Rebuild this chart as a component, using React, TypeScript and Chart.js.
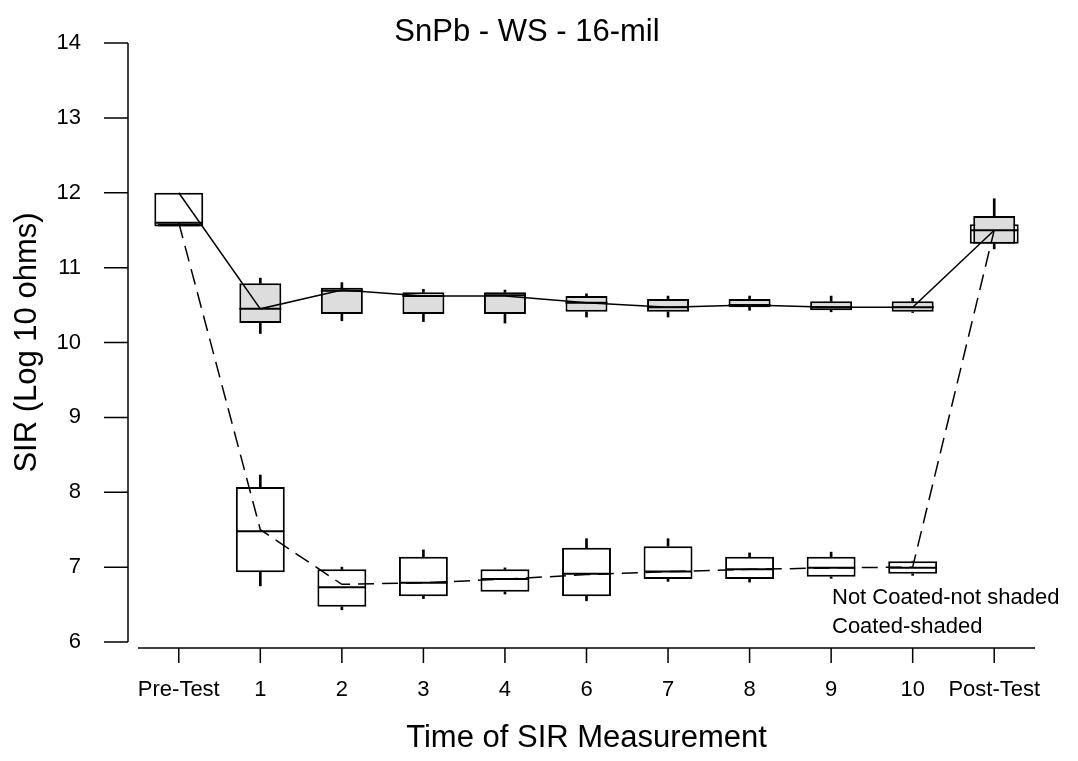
import React, { useEffect, useRef } from "react";
import { Chart, registerables } from "chart.js";

Chart.register(...registerables);

const categories = ["Pre-Test", "1", "2", "3", "4", "6", "7", "8", "9", "10", "Post-Test"];

// Not coated (white boxes, dashed line)
const ncMin = [null, 6.75, 6.43, 6.58, 6.64, 6.55, 6.81, 6.8, 6.85, 6.89, null];
const ncQ1 = [11.55, 6.93, 6.47, 6.61, 6.67, 6.61, 6.84, 6.84, 6.87, 6.91, 11.32];
const ncMedian = [11.6, 7.48, 6.73, 6.79, 6.84, 6.91, 6.94, 6.97, 6.99, 6.99, 11.5];
const ncQ3 = [12.0, 8.07, 6.97, 7.14, 6.97, 7.26, 7.28, 7.14, 7.14, 7.08, 11.58];
const ncMax = [null, 8.23, 7.0, 7.23, 6.99, 7.38, 7.38, 7.19, 7.2, 7.08, null];
const ncMean = [11.6, 7.5, 6.77, 6.79, 6.84, 6.9, 6.94, 6.97, 6.99, 7.0, 11.5];

// Coated (shaded boxes, solid line)
const cMin = [null, 10.12, 10.29, 10.28, 10.26, 10.34, 10.34, 10.43, 10.41, 10.4, 11.25];
const cQ1 = [11.55, 10.26, 10.38, 10.38, 10.38, 10.41, 10.41, 10.47, 10.43, 10.41, 11.32];
const cMedian = [11.57, 10.45, 10.69, 10.62, 10.63, 10.53, 10.47, 10.5, 10.47, 10.47, 11.5];
const cQ3 = [11.59, 10.79, 10.73, 10.67, 10.67, 10.62, 10.58, 10.58, 10.55, 10.55, 11.69];
const cMax = [null, 10.86, 10.8, 10.71, 10.7, 10.65, 10.62, 10.62, 10.62, 10.59, 11.92];
const cMean = [12.0, 10.45, 10.7, 10.62, 10.62, 10.53, 10.47, 10.5, 10.47, 10.47, 11.5];

const yTicks = [6, 7, 8, 9, 10, 11, 12, 13, 14];
const legendLines = ["Not Coated-not shaded", "Coated-shaded"];
const chartTitle = "SnPb - WS - 16-mil";

const FONT = "'Liberation Sans', Arial, sans-serif";

const range = (lo: (number | null)[], hi: (number | null)[]) =>
  lo.map((v, i) => (v == null || hi[i] == null ? null : [v as number, hi[i] as number]));

const decorPlugin = {
  id: "decor",
  afterDraw(chart: any) {
    const { ctx, chartArea } = chart;
    const xs = chart.scales.x;
    const ys = chart.scales.y;
    ctx.save();
    ctx.strokeStyle = "#000";
    ctx.lineWidth = 1.5;
    // y axis line + ticks
    const yax = chartArea.left - 10;
    ctx.beginPath();
    ctx.moveTo(yax, ys.getPixelForValue(yTicks[0]));
    ctx.lineTo(yax, ys.getPixelForValue(yTicks[yTicks.length - 1]));
    yTicks.forEach((t) => {
      const p = ys.getPixelForValue(t);
      ctx.moveTo(yax - 24, p);
      ctx.lineTo(yax, p);
    });
    ctx.stroke();
    // x axis line + ticks
    const xay = chartArea.bottom + 6;
    ctx.beginPath();
    ctx.moveTo(chartArea.left, xay);
    ctx.lineTo(chartArea.right, xay);
    categories.forEach((_, i) => {
      const p = xs.getPixelForValue(i);
      ctx.moveTo(p, xay);
      ctx.lineTo(p, xay + 15);
    });
    ctx.stroke();
    // title
    ctx.fillStyle = "#000";
    ctx.textAlign = "center";
    ctx.textBaseline = "middle";
    ctx.font = `31px ${FONT}`;
    ctx.fillText(chartTitle, 527, 32);
    // legend text
    ctx.textAlign = "left";
    ctx.font = `22px ${FONT}`;
    legendLines.forEach((t, i) => ctx.fillText(t, 832, 598 + i * 29));
    ctx.restore();
  },
};

export default function App() {
  const ref = useRef<HTMLCanvasElement | null>(null);
  useEffect(() => {
    document.body.style.margin = "0";
    if (!ref.current) return;
    Chart.defaults.color = "#000";
    const whisker = (lo: any[], hi: any[], order: number) => ({
      type: "bar" as const,
      data: range(lo, hi),
      backgroundColor: "#000",
      borderWidth: 0,
      barThickness: 2,
      grouped: false,
      order,
    });
    const chart = new Chart(ref.current, {
      type: "bar",
      data: {
        labels: categories,
        datasets: [
          whisker(ncMin, ncQ1, 20),
          whisker(ncQ3, ncMax, 19),
          {
            type: "bar",
            data: range(ncQ1, ncQ3),
            backgroundColor: "#fff",
            borderColor: "#000",
            borderWidth: 2,
            borderSkipped: false,
            barPercentage: 0.6,
            categoryPercentage: 1,
            grouped: false,
            order: 18,
          },
          {
            type: "line",
            data: ncMedian,
            showLine: false,
            pointStyle: "line",
            pointRadius: 24,
            pointBorderWidth: 2,
            pointBorderColor: "#000",
            order: 17,
          },
          whisker(cMin, cQ1, 16),
          whisker(cQ3, cMax, 15),
          {
            type: "bar",
            data: range(cQ1, cQ3),
            backgroundColor: "#dddddd",
            borderColor: "#000",
            borderWidth: 2,
            borderSkipped: false,
            barPercentage: 0.515,
            categoryPercentage: 1,
            grouped: false,
            order: 14,
          },
          {
            type: "line",
            data: cMedian,
            showLine: false,
            pointStyle: "line",
            pointRadius: 21,
            pointBorderWidth: 2,
            pointBorderColor: "#000",
            order: 13,
          },
          {
            type: "line",
            data: ncMean,
            borderColor: "#000",
            borderWidth: 1.5,
            borderDash: [16, 8],
            pointRadius: 0,
            tension: 0,
            order: 2,
          },
          {
            type: "line",
            data: cMean,
            borderColor: "#000",
            borderWidth: 1.5,
            pointRadius: 0,
            tension: 0,
            order: 1,
          },
        ] as any,
      },
      options: {
        animation: false,
        responsive: false,
        devicePixelRatio: 1,
        layout: { padding: { top: 43, right: 43, left: 0, bottom: 0 } },
        plugins: { legend: { display: false }, tooltip: { enabled: false }, title: { display: false } },
        events: [],
        scales: {
          x: {
            type: "category",
            offset: true,
            grid: { display: false, drawTicks: false },
            border: { display: false },
            ticks: { padding: 35, maxRotation: 0, autoSkip: false, font: { family: FONT, size: 22 }, color: "#000" },
            title: {
              display: true,
              text: "Time of SIR Measurement",
              font: { family: FONT, size: 31 },
              color: "#000",
              padding: { top: 0, bottom: 4 },
            },
            afterFit: (s: any) => {
              s.height = 119;
              s.paddingLeft = 0;
              s.paddingRight = 0;
            },
          },
          y: {
            type: "linear",
            min: 6,
            max: 14,
            grid: { display: false, drawTicks: false },
            border: { display: false },
            ticks: { stepSize: 1, padding: 57, font: { family: FONT, size: 22 }, color: "#000" },
            title: {
              display: true,
              text: "SIR (Log 10 ohms)",
              font: { family: FONT, size: 31 },
              color: "#000",
              padding: { top: 9, bottom: 0 },
            },
            afterFit: (s: any) => {
              s.width = 138;
              s.paddingTop = 0;
              s.paddingBottom = 0;
            },
          },
        },
      },
      plugins: [decorPlugin],
    });
    return () => chart.destroy();
  }, []);
  return <canvas ref={ref} width={1078} height={761} style={{ display: "block" }} />;
}
